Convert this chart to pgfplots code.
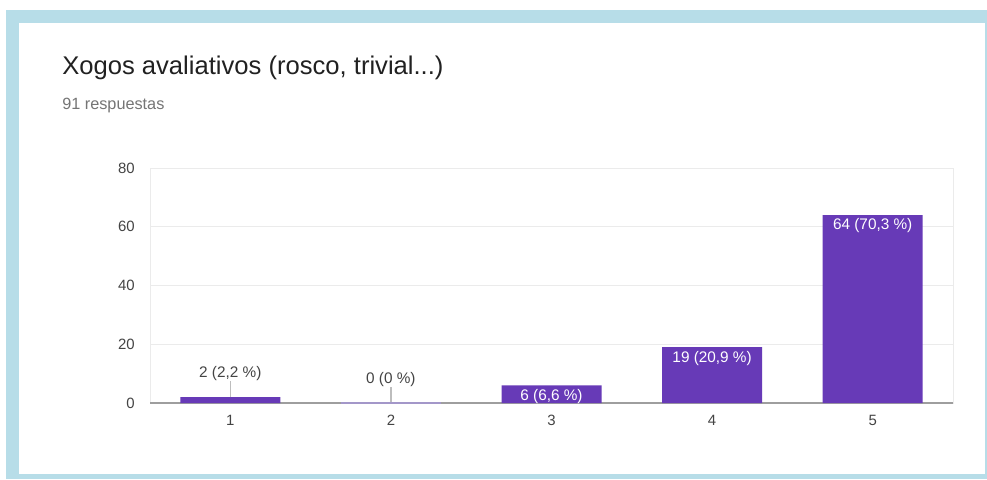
\documentclass[border=0pt]{standalone}
\usepackage{fontspec}
\setmainfont{Liberation Sans}
\usepackage{pgfplots}
\usepackage{pgfplotstable}
\pgfplotsset{compat=1.18}
\definecolor{frameblue}{HTML}{B7DDE8}
\definecolor{barpurple}{HTML}{673AB7}
\definecolor{zerobar}{HTML}{A397C9}
\definecolor{ticktext}{HTML}{444444}
\definecolor{subgray}{HTML}{757575}
\definecolor{titletext}{HTML}{212121}
\definecolor{gridgray}{HTML}{EBEBEB}
\definecolor{basegray}{HTML}{9E9E9E}
\definecolor{leader}{HTML}{BDBDBD}

\pgfplotstableread{
x y ey label
1 2 5.4 {2 (2,2 \%)}
2 0 5.4 {0 (0 \%)}
}\lowbars
\pgfplotstableread{
x y label
3 6 {6 (6,6 \%)}
4 19 {19 (20,9 \%)}
5 64 {64 (70,3 \%)}
}\highbars

\begin{document}
\begin{tikzpicture}[x=0.75pt,y=-0.75pt]
\useasboundingbox (0,0) rectangle (987,479);
\fill[white] (0,0) rectangle (987,479);
\fill[frameblue] (6,10) rectangle (987,479);
\fill[white] (19,23) rectangle (985,474);
\node[anchor=base west, inner sep=0pt, text=titletext, font=\fontsize{19.2}{23}\selectfont] at (62,74) {Xogos avaliativos (rosco, trivial...)};
\node[anchor=base west, inner sep=0pt, text=subgray, font=\fontsize{12.2}{14}\selectfont] at (62,109) {91 respuestas};
\begin{axis}[
  at={(112.5pt,-302.25pt)}, anchor=south west,
  scale only axis, width=602.25pt, height=176.25pt,
  xmin=0.5, xmax=5.5, ymin=0, ymax=80,
  xtick={1,2,3,4,5}, xticklabels={1,2,3,4,5},
  ytick={0,20,40,60,80},
  /pgf/number format/assume math mode=true,
  major tick length=0pt,
  axis line style={draw=gridgray},
  ymajorgrids, major grid style={draw=gridgray, line width=0.75pt},
  tick label style={text=ticktext, font=\fontsize{11.2}{13}\selectfont},
  xticklabel style={anchor=center, inner sep=0pt, yshift=-12.75pt},
  yticklabel style={anchor=east, inner sep=0pt, xshift=-11.25pt},
  clip=false,
]
\addplot[draw=basegray, line width=1.5pt, no marks] coordinates {(0.5,0) (5.5,0)};
\addplot[ybar, bar width=75pt, bar shift=0pt, fill=barpurple, draw=none,
  point meta=explicit symbolic,
  nodes near coords,
  every node near coord/.append style={anchor=center, inner sep=0pt, yshift=-8.2pt, text=white, font=\fontsize{11.5}{13}\selectfont}]
  table[x=x, y=y, meta=label] {\highbars};
\addplot[ybar, bar width=75pt, bar shift=0pt, fill=barpurple, draw=none,
  point meta=explicit symbolic,
  nodes near coords,
  every node near coord/.append style={anchor=center, inner sep=0pt, yshift=17.6pt, text=ticktext, font=\fontsize{11.5}{13}\selectfont},
  error bars/.cd, y dir=plus, y explicit, error mark=none,
  error bar style={draw=leader, line width=0.9pt}]
  table[x=x, y=y, y error plus=ey, meta=label] {\lowbars};
\addplot[draw=zerobar, line width=1.5pt, no marks] coordinates {(1.6875,0) (2.3125,0)};
\end{axis}
\end{tikzpicture}
\end{document}
